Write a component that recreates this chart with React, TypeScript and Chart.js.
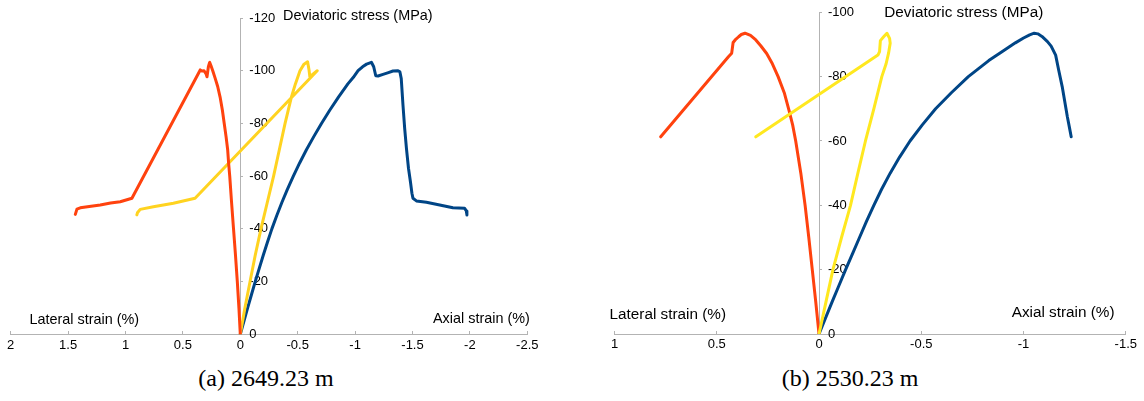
import React, { useEffect, useRef } from "react";
import { Chart, registerables } from "chart.js";
Chart.register(...registerables);

// ---------- Chart (a) 2649.23 m ----------
const aLateralX = [0, 0.012, 0.026, 0.042, 0.059, 0.076, 0.092, 0.102, 0.11, 0.124, 0.14, 0.156, 0.176, 0.197, 0.218, 0.24, 0.256, 0.267, 0.278, 0.29, 0.298, 0.316, 0.335, 0.349, 0.944, 1.046, 1.13, 1.22, 1.3, 1.394, 1.423, 1.437];
const aLateralY = [0, -10, -20, -30, -40, -50, -60, -65, -70, -75, -80, -85, -90, -94, -97, -100, -102, -103.2, -101.5, -97.7, -98.8, -100, -99.9, -100.3, -51.6, -50.3, -49.8, -49.05, -48.6, -48.0, -47.5, -45.5];
const aVolX = [0, -0.04, -0.085, -0.13, -0.18, -0.235, -0.29, -0.34, -0.39, -0.445, -0.48, -0.52, -0.555, -0.586, -0.598, -0.606, -0.63, -0.67, 0.394, 0.583, 0.757, 0.872, 0.896, 0.901];
const aVolY = [0, -10, -20, -30, -40, -50, -60, -70, -80, -90, -95, -100, -102.5, -103.4, -100.5, -97.7, -98.6, -100, -51.6, -49.7, -48.4, -47.4, -46.1, -45.3];
const aAxialX = [0, -0.032, -0.064, -0.097, -0.13, -0.165, -0.2, -0.237, -0.275, -0.317, -0.362, -0.41, -0.462, -0.517, -0.576, -0.64, -0.707, -0.779, -0.855, -0.937, -0.985, -1.026, -1.065, -1.1, -1.142, -1.162, -1.18, -1.2, -1.243, -1.29, -1.33, -1.374, -1.39, -1.402, -1.417, -1.432, -1.447, -1.465, -1.482, -1.495, -1.504, -1.534, -1.621, -1.737, -1.852, -1.954, -1.969, -1.974];
const aAxialY = [0, -5, -10, -15, -20, -25, -30, -35, -40, -45, -50, -55, -60, -65, -70, -75, -80, -85, -90, -95, -97.5, -100, -101.5, -102.5, -103.2, -101.5, -98.1, -98.0, -98.6, -99.3, -99.9, -100, -99.6, -97, -87, -78, -70.6, -63, -57.9, -53.5, -51.6, -50.6, -50.1, -49.05, -48.0, -47.8, -46.8, -45.3];

// ---------- Chart (b) 2530.23 m ----------
const bLateralX = [0, 0.016, 0.033, 0.05, 0.068, 0.089, 0.114, 0.129, 0.147, 0.17, 0.2, 0.228, 0.256, 0.285, 0.309, 0.335, 0.362, 0.38, 0.393, 0.41, 0.42, 0.427, 0.443, 0.774];
const bLateralY = [0, -10, -20, -30, -40, -50, -60, -65, -69.6, -75, -80, -84, -87.2, -89.6, -91.4, -92.8, -93.5, -93.1, -92.4, -91.4, -90.6, -87.3, -86.2, -61.3];
const bVolX = [0, -0.034, -0.068, -0.11, -0.154, -0.19, -0.227, -0.268, -0.307, -0.328, -0.34, -0.348, -0.345, -0.332, -0.316, -0.3, -0.296, -0.288, 0.309];
const bVolY = [0, -10, -20, -30, -40, -50, -60, -70, -80, -84, -87.3, -90.4, -91.9, -93.5, -92.4, -91.2, -87.8, -86.7, -61.3];
const bAxialX = [0, -0.032, -0.064, -0.097, -0.13, -0.164, -0.198, -0.232, -0.268, -0.306, -0.348, -0.394, -0.445, -0.505, -0.57, -0.647, -0.73, -0.83, -0.9, -0.96, -1.0, -1.03, -1.052, -1.07, -1.09, -1.117, -1.135, -1.157, -1.172, -1.189, -1.214, -1.225, -1.233];
const bAxialY = [0, -5, -10, -15, -20, -25, -30, -35, -40, -45, -50, -55, -60, -65, -70, -75, -80, -85, -88, -90.5, -92, -93, -93.5, -93.3, -92.5, -90.9, -89.5, -86.7, -82, -76.9, -67.6, -64, -61.3];

// axis tick settings
const aXRange = [-2.5, 2];
const aYRange = [-120, 0];
const bXRange = [-1.5, 1];
const bYRange = [-100, 0];
const xStep = 0.5;
const yStep = 20;

const RED = "#ff420e";
const YELLOW_A = "#ffd320";
const YELLOW_B = "#ffe81f";
const BLUE = "#004586";
const AXIS = "#b3b3b3";
const SANS = "'Liberation Sans', Arial, sans-serif";

const pts = (xs: number[], ys: number[]) => xs.map((x, i) => ({ x, y: ys[i] }));

const yLabelLeft = {
  id: "yLabelLeft",
  beforeDraw(chart: any) {
    const ys = chart.scales.y;
    const xs = chart.scales.x;
    const axisPx = xs.getPixelForValue(0);
    const items = ys.getLabelItems(chart.chartArea);
    for (const it of items) {
      it.options.textAlign = "left";
      it.options.translation = [axisPx + 9, it.options.translation[1]];
    }
  },
};

const axisTitles = {
  id: "axisTitles",
  beforeDatasetsDraw(chart: any, _args: any, opts: any) {
    const ctx = chart.ctx;
    ctx.save();
    ctx.fillStyle = "#000";
    ctx.font = `${opts.size}px ${SANS}`;
    ctx.textBaseline = "middle";
    for (const t of opts.items || []) {
      ctx.textAlign = t.align;
      ctx.fillText(t.text, t.x, t.y);
    }
    ctx.restore();
  },
};

function ds(data: any, color: string) {
  return {
    data,
    borderColor: color,
    backgroundColor: color,
    borderWidth: 3,
    pointRadius: 0,
    showLine: true,
    fill: false,
    tension: 0,
    borderJoinStyle: "round" as const,
    borderCapStyle: "round" as const,
  };
}

function makeOptions(xr: number[], yr: number[], padding: any, titles: any) {
  const tickFont = { family: SANS, size: 13 };
  return {
    animation: false,
    responsive: false,
    maintainAspectRatio: false,
    layout: { padding },
    plugins: {
      legend: { display: false },
      tooltip: { enabled: false },
      axisTitles: titles,
    },
    scales: {
      x: {
        type: "linear",
        position: { y: 0 },
        min: xr[0],
        max: xr[1],
        reverse: true,
        ticks: {
          stepSize: xStep,
          color: "#000",
          font: tickFont,
          padding: 7,
          callback: (v: any) => String(+Number(v).toFixed(2)),
        },
        grid: { drawOnChartArea: false, drawTicks: true, tickLength: -4, color: AXIS, tickColor: AXIS },
        border: { display: true, color: AXIS, width: 1 },
      },
      y: {
        type: "linear",
        position: { x: 0 },
        min: yr[0],
        max: yr[1],
        reverse: true,
        ticks: {
          stepSize: yStep,
          color: "#000",
          font: tickFont,
          padding: 0,
          callback: (v: any) => String(+Number(v).toFixed(2)),
        },
        grid: { drawOnChartArea: false, drawTicks: true, tickLength: -3, color: AXIS, tickColor: AXIS },
        border: { display: true, color: AXIS, width: 1 },
      },
    },
  } as any;
}

function ChartA() {
  const ref = useRef<HTMLCanvasElement>(null);
  useEffect(() => {
    const chart = new Chart(ref.current as HTMLCanvasElement, {
      type: "scatter",
      data: {
        datasets: [
          ds(pts(aLateralX, aLateralY), RED),
          ds(pts(aVolX, aVolY), YELLOW_A),
          ds(pts(aAxialX, aAxialY), BLUE),
        ],
      },
      options: makeOptions(aXRange, aYRange, { left: 10.7, right: 44.7, top: 18, bottom: 25.7 }, {
        size: 14.4,
        items: [
          { text: "Deviatoric stress (MPa)", x: 283, y: 16, align: "left" },
          { text: "Lateral strain (%)", x: 29.5, y: 320, align: "left" },
          { text: "Axial strain (%)", x: 433, y: 319, align: "left" },
        ],
      }),
      plugins: [yLabelLeft, axisTitles],
    });
    return () => chart.destroy();
  }, []);
  return <canvas ref={ref} width={572} height={360} style={{ display: "block" }} />;
}

function ChartB() {
  const ref = useRef<HTMLCanvasElement>(null);
  useEffect(() => {
    const chart = new Chart(ref.current as HTMLCanvasElement, {
      type: "scatter",
      data: {
        datasets: [
          ds(pts(bVolX, bVolY), YELLOW_B),
          ds(pts(bLateralX, bLateralY), RED),
          ds(pts(bAxialX, bAxialY), BLUE),
        ],
      },
      options: makeOptions(bXRange, bYRange, { left: 42.5, right: 16, top: 12.3, bottom: 26 }, {
        size: 15.3,
        items: [
          { text: "Deviatoric stress (MPa)", x: 312.3, y: 12.7, align: "left" },
          { text: "Lateral strain (%)", x: 154, y: 315, align: "right" },
          { text: "Axial strain (%)", x: 439.7, y: 313, align: "left" },
        ],
      }),
      plugins: [yLabelLeft, axisTitles],
    });
    return () => chart.destroy();
  }, []);
  return <canvas ref={ref} width={572} height={360} style={{ display: "block" }} />;
}

const captionStyle: React.CSSProperties = {
  position: "absolute",
  top: 363,
  width: 300,
  textAlign: "center",
  fontFamily: "'Liberation Serif', 'DejaVu Serif', serif",
  fontSize: 24,
  lineHeight: "30px",
  color: "#000",
  whiteSpace: "nowrap",
};

export default function App() {
  return (
    <div style={{ position: "absolute", left: 0, top: 0, width: 1144, height: 401, background: "#fff", overflow: "hidden" }}>
      <div style={{ position: "absolute", left: 0, top: 0 }}>
        <ChartA />
      </div>
      <div style={{ position: "absolute", left: 572, top: 0 }}>
        <ChartB />
      </div>
      <div style={{ ...captionStyle, left: 266 - 150 }}>(a) 2649.23 m</div>
      <div style={{ ...captionStyle, left: 850 - 150 }}>(b) 2530.23 m</div>
    </div>
  );
}
